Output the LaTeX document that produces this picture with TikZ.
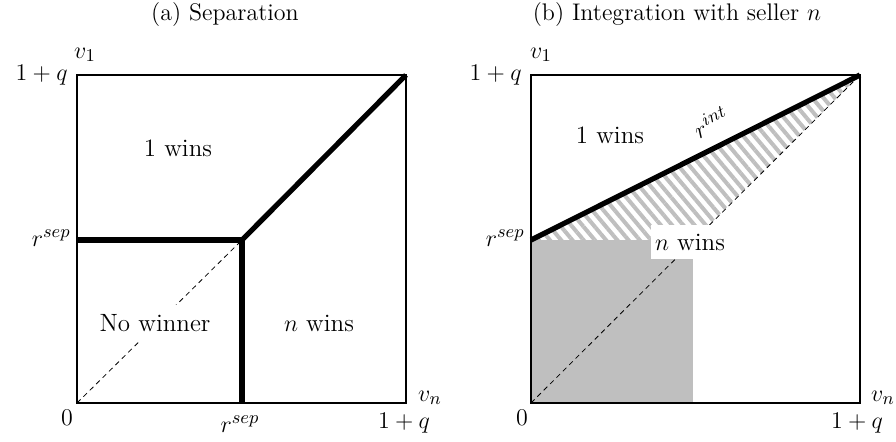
\documentclass[tikz,border=0pt]{standalone}
\usepackage{tikz}
\usetikzlibrary{patterns.meta}
\begin{document}
\begin{tikzpicture}[x=0.5pt,y=-0.5pt,
  every node/.style={font=\fontsize{12.5}{15}\selectfont, inner sep=1pt},
  ttl/.style={font=\large},
  frame/.style={line width=1.2pt},
  bound/.style={line width=2.6pt},
  diag/.style={line width=0.4pt, dash pattern=on 2.5pt off 2pt},
  hatch/.style={pattern={Lines[angle=-50,distance=4.3pt,line width=2pt]}, pattern color=black!25},
  tie/.style={fill=black!25},
  tag/.style={fill=white, inner xsep=2pt, inner ysep=4.5pt}]
\useasboundingbox (0,0) rectangle (896,441);
% (a) separation
\coordinate (a0) at (77,403);
\coordinate (a1) at (406,75);
\coordinate (asep) at (242,240);
\node[ttl] (atitle) at (225,15) {(a) Separation};
\draw[diag] (a0) -- (asep);
\draw[frame] (a0) rectangle (a1);
\draw[bound] (a0 |- asep) -- (asep) -- (asep |- a0);
\draw[bound] (asep) -- (a1);
\node (av1)   at (85,55)   {$v_1$};
\node[anchor=east] (atop)  at (70,75)  {$1+q$};
\node[anchor=east] (arsep) at (73,238) {$r^{sep}$};
\node (azero) at (67,418)  {$0$};
\node (absep) at (240,424) {$r^{sep}$};
\node (aend)  at (404,423) {$1+q$};
\node (avn)   at (430,398) {$v_n$};
\node (a1w)   at (178,148) {1 wins};
\node[tag] (anone) at (155,323) {No winner};
\node (anw)   at (319,323) {$n$ wins};
% (b) integration with seller n
\coordinate (b0) at (531,403);
\coordinate (b1) at (860,75);
\coordinate (bsep) at (531,240);
\coordinate (bcut) at (694,240);
\node[ttl] (btitle) at (677,15) {(b) Integration with seller $n$};
\fill[tie] (b0) rectangle (693,240);
\fill[hatch] (bsep) -- (b1) -- (bcut) -- cycle;
\draw[diag] (b0) -- (b1);
\draw[frame] (b0) rectangle (b1);
\draw[bound] (bsep) -- node[above=5pt, sloped, pos=0.58] (brint) {$r^{int}$} (b1);
\node (bv1)   at (541,55)  {$v_1$};
\node[anchor=east] (btop)  at (524,75)  {$1+q$};
\node[anchor=east] (brsep) at (527,238) {$r^{sep}$};
\node (bzero) at (522,418) {$0$};
\node (bend)  at (857,423) {$1+q$};
\node (bvn)   at (883,398) {$v_n$};
\node (b1w)   at (610,135) {1 wins};
\node[tag] (bnw) at (690,242) {$n$ wins};
\end{tikzpicture}
\end{document}
